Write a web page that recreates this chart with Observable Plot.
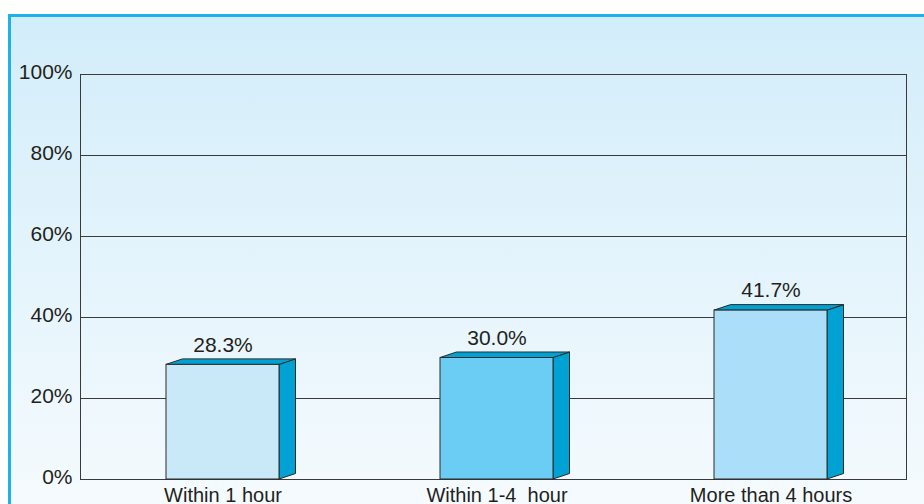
<!DOCTYPE html>
<html>
<head>
<meta charset="utf-8">
<script src="https://cdn.jsdelivr.net/npm/d3@7"></script>
<script src="https://cdn.jsdelivr.net/npm/@observablehq/plot@0.6"></script>
<style>
  html, body { margin: 0; padding: 0; width: 924px; height: 504px; overflow: hidden; background: #ffffff; }
  #panel {
    position: absolute; left: 8px; top: 14px; width: 940px; height: 500px;
    border-left: 3px solid #1db3ea; border-top: 3px solid #1db3ea;
    background: linear-gradient(to bottom, #d2edfa 0%, #e4f4fc 50%, #f6fbfe 100%);
  }
  #chart { position: absolute; left: 0; top: 0; }
  #chart svg text { white-space: pre; }
</style>
</head>
<body>
<div id="panel"></div>
<div id="chart"></div>
<script>
// Response time categories and the share of responses in each
const categories = ["Within 1 hour", "Within 1-4  hour", "More than 4 hours"];
const shares = [28.3, 30.0, 41.7];
const frontColors = ["#c9e9f9", "#6bcdf4", "#abdff9"];
const yTicks = [0, 20, 40, 60, 80, 100];
const gridLines = [20, 40, 60, 80];

const rows = categories.map((category, i) => ({category, share: shares[i], color: frontColors[i]}));

// Extrusion of the boxes: right side and top faces
const depthX = 16.5, depthY = -5.5;
const sideColor = "#00a2d3";
const edgeColor = "#2a2a2a";
const font = "'Liberation Sans', Arial, Helvetica, sans-serif";

function boxFaces(index, scales) {
  const x = scales.x, y = scales.y;
  const bw = typeof x.bandwidth === "function" ? x.bandwidth() : scales.scales.x.bandwidth;
  const g = d3.create("svg:g")
    .attr("fill", sideColor)
    .attr("stroke", edgeColor)
    .attr("stroke-width", 1)
    .attr("stroke-linejoin", "round");
  for (const d of rows) {
    const x0 = x(d.category), x1 = x0 + bw;
    const yt = y(d.share), yb = y(0);
    g.append("path").attr("d",
      `M${x1},${yb}L${x1 + depthX},${yb + depthY}L${x1 + depthX},${yt + depthY}L${x1},${yt}Z`);
    g.append("path").attr("d",
      `M${x0},${yt}L${x0 + depthX},${yt + depthY}L${x1 + depthX},${yt + depthY}L${x1},${yt}Z`);
  }
  return g.node();
}

const chart = Plot.plot({
  width: 924,
  height: 504,
  marginLeft: 80,
  marginRight: 18,
  marginTop: 74,
  marginBottom: 25,
  style: {background: "transparent", fontFamily: font, color: "#231f20", overflow: "visible"},
  x: {domain: categories, range: [80, 913], paddingInner: 0.5865, paddingOuter: 0.31},
  y: {domain: [0, 100]},
  color: {type: "identity"},
  marks: [
    Plot.ruleY(gridLines, {stroke: "#3a3a3a", strokeWidth: 1}),
    Plot.frame({stroke: "#3a3a3a", strokeWidth: 1}),
    Plot.axisY({ticks: yTicks, tickFormat: d => d + "%", tickSize: 0, tickPadding: 8,
                fontSize: 21, dy: -2, fill: "#231f20", label: null}),
    Plot.axisX({tickSize: 0, tickPadding: 8, fontSize: 20, fill: "#231f20", label: null}),
    boxFaces,
    Plot.barY(rows, {x: "category", y: "share", fill: "color", stroke: edgeColor, strokeWidth: 1}),
    Plot.text(rows, {x: "category", y: "share", text: d => d.share.toFixed(1) + "%",
                     dy: -20, fontSize: 21, fill: "#231f20"})
  ]
});

document.getElementById("chart").appendChild(chart);
</script>
</body>
</html>
